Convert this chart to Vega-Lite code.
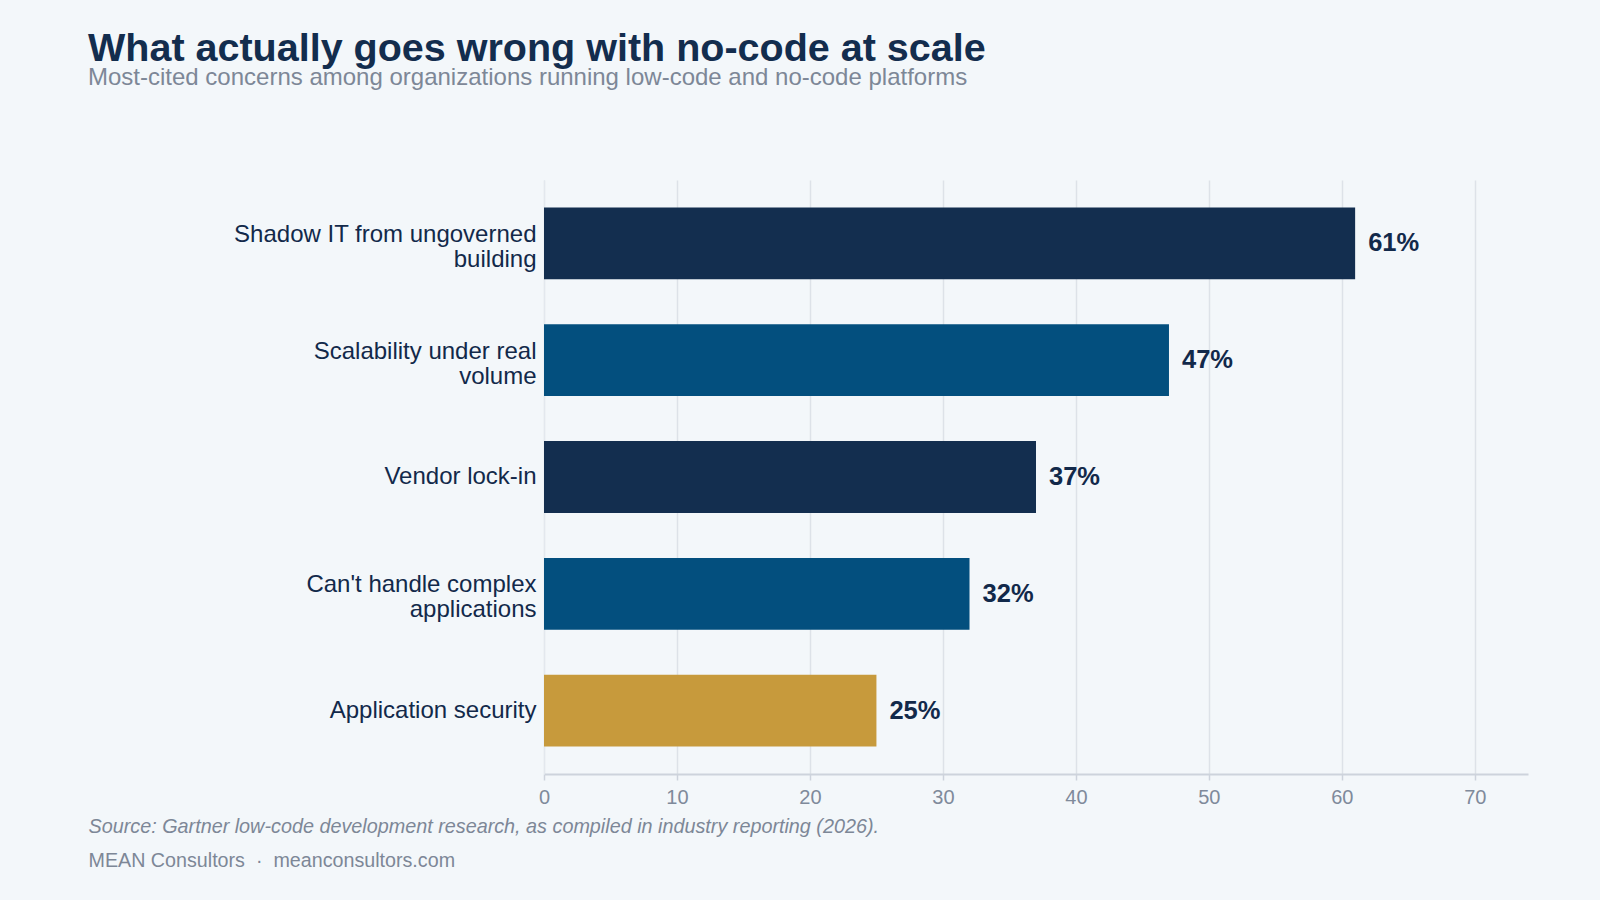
{
  "$schema": "https://vega.github.io/schema/vega-lite/v6.json",
  "width": 984,
  "height": 594,
  "autosize": {"type": "none"},
  "padding": {"left": 544, "top": 180, "right": 72, "bottom": 126},
  "background": "#f3f7fa",
  "config": {
    "font": "Liberation Sans",
    "view": {"stroke": null}
  },
  "title": {
    "text": "What actually goes wrong with no-code at scale",
    "subtitle": "Most-cited concerns among organizations running low-code and no-code platforms",
    "anchor": "start",
    "frame": "group",
    "dx": -456,
    "offset": 89,
    "fontSize": 39.5,
    "fontWeight": "bold",
    "color": "#132d4e",
    "subtitleFontSize": 24,
    "subtitleColor": "#7d8797",
    "subtitlePadding": -3
  },
  "data": {
    "values": [
      {"concern": "Shadow IT from ungoverned building", "value": 61},
      {"concern": "Scalability under real volume", "value": 47},
      {"concern": "Vendor lock-in", "value": 37},
      {"concern": "Can't handle complex applications", "value": 32},
      {"concern": "Application security", "value": 25}
    ]
  },
  "transform": [{"calculate": "datum.value + '%'", "as": "label"}],
  "encoding": {
    "y": {
      "field": "concern",
      "type": "nominal",
      "sort": null,
      "scale": {"paddingInner": 0.385, "paddingOuter": 0.235},
      "axis": {
        "title": "MEAN Consultors\u00a0\u00a0·\u00a0\u00a0meanconsultors.com",
        "titleAngle": 0,
        "titleX": -456,
        "titleY": 680,
        "titleAlign": "left",
        "titleBaseline": "middle",
        "titleFontSize": 19.7,
        "titleFontWeight": "normal",
        "titleColor": "#7d8797",
        "labelFontSize": 24,
        "labelColor": "#12294a",
        "labelPadding": 8,
        "labelLineHeight": 25,
        "labelLimit": 500,
        "labelOffset": {"condition": {"test": "length(datum.value) > 22", "value": -8.5}, "value": 0},
        "ticks": false,
        "domain": true,
        "domainColor": "#e3e8ee",
        "domainWidth": 1,
        "labelExpr": "datum.value == 'Shadow IT from ungoverned building' ? ['Shadow IT from ungoverned', 'building'] : datum.value == 'Scalability under real volume' ? ['Scalability under real', 'volume'] : datum.value == \"Can't handle complex applications\" ? [\"Can't handle complex\", 'applications'] : datum.value"
      }
    },
    "x": {
      "field": "value",
      "type": "quantitative",
      "scale": {"domain": [0, 74], "nice": false},
      "axis": {
        "values": [0, 10, 20, 30, 40, 50, 60, 70],
        "labelFlush": false,
        "title": "Source: Gartner low-code development research, as compiled in industry reporting (2026).",
        "titleX": -456,
        "titleY": 52,
        "titleAlign": "left",
        "titleAnchor": "start",
        "titleBaseline": "middle",
        "titleFontSize": 19.8,
        "titleFontStyle": "italic",
        "titleFontWeight": "normal",
        "titleColor": "#7d8797",
        "labelFontSize": 20,
        "labelColor": "#7f8a9b",
        "labelPadding": 7,
        "tickColor": "#cdd3dc",
        "tickSize": 6,
        "tickWidth": 1.5,
        "domainColor": "#cdd3dc",
        "domainWidth": 2,
        "grid": true,
        "gridColor": "#dde2e8",
        "gridWidth": 1.5
      }
    }
  },
  "layer": [
    {
      "mark": {"type": "bar"},
      "encoding": {
        "color": {
          "field": "concern",
          "type": "nominal",
          "scale": {
            "domain": ["Shadow IT from ungoverned building", "Scalability under real volume", "Vendor lock-in", "Can't handle complex applications", "Application security"],
            "range": ["#132e4f", "#034f7e", "#132e4f", "#034f7e", "#c79a3c"]
          },
          "legend": null
        }
      }
    },
    {
      "mark": {"type": "text", "align": "left", "baseline": "middle", "dx": 13, "fontSize": 25.5, "fontWeight": "bold", "color": "#12294a"},
      "encoding": {
        "text": {"field": "label", "type": "nominal"}
      }
    }
  ]
}
